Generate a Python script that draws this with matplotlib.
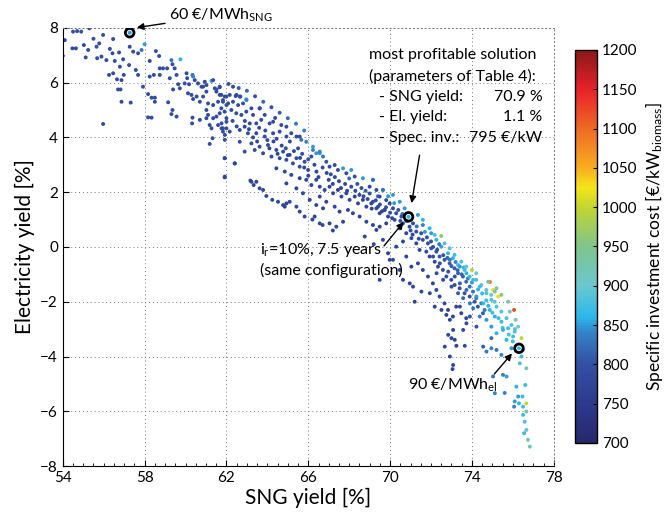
import matplotlib
matplotlib.use("Agg")
import matplotlib.pyplot as plt
from matplotlib.colors import LinearSegmentedColormap
from matplotlib.ticker import MultipleLocator

plt.rcParams['font.family'] = ['Lato', 'DejaVu Sans']
plt.rcParams['mathtext.default'] = 'regular'

# upper left part of the cloud (SNG yield 54-58.5 %)
x_a = [54.1, 54.0, 54.5, 54.7, 54.9, 55.3, 55.5, 55.97, 56.46, 54.47,
       54.64, 55.03, 55.12, 55.24, 55.65, 55.68, 55.78, 55.89, 56.13, 56.3,
       56.43, 56.54, 56.75, 56.95, 56.79, 56.26, 56.46, 56.65, 56.87, 56.7,
       56.82, 56.87, 57.32, 55.97, 57.27, 57.44, 57.68, 57.85, 58.0, 57.24,
       57.57, 57.68, 56.98, 57.92, 58.17, 58.34, 58.5, 58.5, 58.17, 58.34]
y_a = [7.55, 6.98, 7.86, 7.88, 7.86, 7.98, 7.6, 7.74, 7.59, 7.25,
       7.25, 7.37, 6.92, 7.19, 7.31, 6.89, 7.43, 6.95, 6.82, 7.23,
       7.07, 6.79, 7.1, 6.85, 6.58, 6.28, 6.34, 6.12, 6.09, 5.75,
       5.75, 5.3, 5.27, 4.49, 7.31, 7.13, 7.07, 7.19, 7.4, 6.64,
       6.46, 6.28, 6.28, 5.85, 5.58, 5.45, 5.45, 5.3, 4.73, 4.72]
c_a = [790, 790, 800, 790, 800, 790, 790, 800, 790, 790,
       790, 790, 790, 790, 800, 790, 790, 790, 790, 790,
       790, 790, 790, 790, 790, 790, 790, 790, 790, 790,
       790, 790, 790, 790, 790, 790, 800, 830, 850, 790,
       790, 790, 790, 790, 790, 790, 790, 790, 790, 790]

# 58-62 %
x_b = [58.25, 58.55, 58.71, 58.74, 58.45, 58.25, 58.74, 59.1, 58.9, 59.36,
       59.31, 59.75, 59.47, 59.56, 59.23, 59.64, 59.72, 59.39, 59.15, 59.36,
       59.56, 59.31, 60.05, 60.08, 59.96, 60.17, 60.34, 60.45, 60.61, 60.12,
       60.29, 60.37, 60.54, 60.78, 60.94, 61.02, 61.27, 61.43, 61.51, 61.67,
       61.67, 61.83, 60.34, 60.32, 60.7, 61.02, 61.1, 61.18, 61.27, 61.51,
       61.59, 61.76, 61.83, 61.92, 61.32, 61.18, 61.92, 60.7, 60.86, 61.1,
       61.35, 61.59, 61.92, 62.0, 61.02, 61.35, 61.67, 62.0, 61.76, 62.0,
       61.92, 60.37, 61.35, 60.86, 61.51, 61.92, 62.41]
y_b = [6.79, 7.15, 6.97, 6.52, 6.28, 6.22, 6.28, 6.52, 6.52, 6.67,
       6.82, 6.85, 6.52, 6.28, 6.16, 5.94, 5.79, 5.75, 5.28, 5.0,
       4.76, 4.85, 6.34, 6.16, 5.97, 5.94, 6.28, 6.09, 5.97, 5.61,
       5.55, 5.4, 5.49, 5.85, 6.03, 5.67, 6.06, 5.79, 5.67, 5.85,
       5.55, 5.36, 4.72, 4.51, 4.64, 5.0, 4.82, 4.45, 4.33, 4.76,
       4.45, 4.33, 4.21, 4.09, 3.97, 3.76, 3.24, 5.3, 5.49, 5.24,
       5.18, 5.3, 5.49, 5.18, 4.7, 4.7, 4.88, 4.7, 4.51, 4.33,
       3.91, 6.22, 6.09, 5.85, 5.75, 2.57, 3.05]
c_b = [790, 800, 790, 790, 790, 790, 790, 790, 790, 790,
       830, 860, 790, 790, 790, 790, 790, 790, 790, 790,
       790, 790, 790, 790, 790, 790, 830, 790, 790, 790,
       790, 790, 790, 790, 790, 790, 850, 790, 790, 790,
       790, 790, 790, 790, 790, 790, 790, 790, 790, 790,
       790, 790, 790, 790, 790, 790, 790, 790, 790, 790,
       790, 790, 790, 790, 790, 790, 790, 790, 790, 790,
       790, 840, 790, 790, 790, 790, 790]

# 62-66 %, upper side of the band
x_c = [61.75, 62.0, 62.16, 62.45, 62.68, 62.97, 61.83, 62.08, 62.32, 62.57,
       62.81, 63.22, 61.75, 61.91, 62.24, 62.48, 62.73, 62.97, 63.3, 63.62,
       63.87, 63.7, 64.11, 64.28, 64.68, 63.46, 63.14, 62.0, 61.83, 62.16,
       62.65, 63.05, 63.46, 63.87, 64.28, 64.6, 64.93, 65.17, 65.42, 65.66,
       65.9, 62.32, 62.65, 62.98, 63.63, 64.38, 64.93, 65.58, 66.23, 66.56,
       62.49, 61.67, 61.02, 62.1, 62.6, 63.0, 63.4, 63.8, 64.2, 64.6,
       65.0, 65.4, 65.8]
y_c = [5.55, 5.49, 5.55, 5.51, 5.49, 5.39, 5.3, 5.24, 5.3, 5.18,
       5.24, 5.06, 5.06, 4.94, 5.0, 4.88, 4.82, 4.94, 4.82, 5.06,
       4.82, 4.64, 4.51, 4.57, 4.45, 4.51, 4.51, 4.57, 4.33, 4.21,
       4.27, 4.15, 4.15, 4.03, 4.15, 4.21, 4.03, 4.15, 4.03, 3.91,
       3.84, 5.85, 5.49, 5.36, 5.06, 4.71, 4.39, 4.03, 3.66, 3.42,
       5.55, 5.83, 5.91, 5.95, 5.8, 5.7, 5.5, 5.3, 5.1, 4.9,
       4.7, 4.5, 4.25]
c_c = [790, 790, 790, 790, 790, 850, 790, 790, 790, 790,
       790, 790, 790, 790, 790, 790, 790, 790, 790, 790,
       790, 790, 790, 790, 790, 790, 790, 790, 790, 790,
       790, 790, 790, 790, 790, 790, 790, 790, 790, 830,
       840, 790, 790, 840, 790, 790, 790, 790, 850, 850,
       790, 790, 790, 800, 810, 820, 800, 820, 800, 810,
       820, 830, 840]

# 62-70 %, middle of the band
x_d = [62.65, 62.89, 63.22, 63.38, 63.62, 63.79, 64.03, 64.2, 64.44, 64.6,
       64.77, 64.93, 65.09, 65.25, 65.42, 65.58, 65.82, 65.99, 66.15, 66.23,
       66.39, 66.56, 66.72, 66.88, 67.04, 67.29, 67.45, 67.7, 67.86, 68.1,
       68.27, 68.67, 69.16, 69.65]
y_d = [3.84, 3.48, 3.78, 3.54, 3.66, 3.42, 3.72, 3.3, 3.54, 3.24,
       3.48, 3.18, 3.36, 3.05, 3.24, 2.93, 3.11, 2.81, 3.3, 3.54,
       3.42, 3.48, 3.3, 3.11, 2.93, 2.99, 2.81, 2.87, 2.69, 2.81,
       2.57, 2.51, 2.45, 2.08]
c_d = [790, 790, 790, 790, 790, 790, 790, 790, 790, 790,
       790, 790, 790, 790, 790, 790, 790, 790, 790, 840,
       850, 840, 830, 800, 790, 790, 790, 850, 790, 850,
       800, 850, 850, 850]

# 64-70 %, lower side of the band
x_e = [64.44, 64.85, 65.17, 65.58, 65.9, 66.15, 66.39, 66.56, 66.8, 67.04,
       67.21, 67.45, 67.62, 67.86, 68.02, 68.27, 68.43, 68.67, 68.84, 69.08,
       69.33, 69.49, 69.73, 69.9, 68.51, 68.84, 69.16, 69.49, 69.81, 66.31,
       66.56, 67.04, 67.37, 67.7, 64.93, 65.42, 65.74, 66.07, 66.39, 66.72,
       66.56, 66.88, 67.29, 67.53, 67.94, 68.18]
y_e = [2.87, 2.75, 2.63, 2.51, 2.45, 2.26, 2.45, 2.2, 2.08, 2.2,
       1.96, 2.08, 1.84, 1.96, 1.72, 1.84, 1.59, 1.72, 1.47, 1.59,
       1.41, 1.23, 1.35, 1.11, 1.11, 0.92, 0.8, 0.74, 0.86, 1.11,
       0.86, 0.86, 0.74, 0.92, 2.32, 2.14, 1.96, 1.72, 1.53, 1.41,
       1.84, 1.65, 1.47, 1.29, 1.35, 1.23]
c_e = [780, 775, 780, 770, 780, 775, 780, 770, 780, 775,
       780, 770, 780, 775, 780, 770, 780, 775, 780, 770,
       780, 775, 780, 770, 780, 775, 780, 770, 780, 775,
       780, 770, 780, 775, 780, 770, 780, 775, 780, 770,
       780, 775, 780, 770, 780, 775]

x_n = [62.3, 62.5, 62.9, 63.1, 63.3, 63.5, 63.6, 63.9, 64.0, 64.1,
       64.3, 64.45, 64.5, 64.7, 64.9, 65.0, 65.1, 65.3, 65.5, 65.6,
       65.7, 65.8, 66.0, 66.0, 66.3, 66.4, 66.5, 66.7, 66.9, 67.0,
       67.1, 67.2, 67.3, 67.5, 67.6, 67.8, 67.9, 68.0, 68.1, 68.3,
       68.4, 68.5, 68.6, 68.7, 68.8, 68.9, 69.0, 69.1, 69.3, 69.4,
       69.5, 69.6, 69.8, 69.9, 70.0, 70.1, 70.2, 70.4, 70.5, 70.6,
       70.8, 71.0, 71.1, 71.3, 71.4, 71.7, 71.8, 72.0, 72.1, 72.3,
       72.4, 72.6, 72.8, 73.0, 73.2, 73.3, 73.5, 73.6, 73.8, 74.0,
       74.3, 74.5, 74.7, 74.8, 75.0, 75.3, 75.5, 75.8, 76.0, 76.1]
y_n = [4.6, 4.4, 4.6, 4.3, 4.0, 3.85, 4.35, 4.25, 3.9, 3.6,
       3.85, 3.95, 3.4, 3.7, 3.6, 3.35, 3.85, 3.5, 3.6, 3.25,
       3.4, 2.9, 3.2, 2.6, 3.0, 2.75, 2.55, 2.9, 2.7, 2.45,
       2.65, 2.3, 2.55, 2.4, 2.15, 2.3, 2.05, 2.5, 2.2, 2.05,
       2.3, 1.9, 2.15, 1.85, 2.05, 1.75, 1.95, 1.4, 1.7, 1.85,
       1.55, 1.3, 1.45, 1.85, 1.25, 1.05, 1.6, 1.35, 0.95, 1.2,
       0.95, 0.6, 0.45, 0.75, 0.3, 0.55, 0.35, 0.2, 0.0, -0.1,
       0.1, -0.3, -0.4, -0.7, -0.55, -0.85, -1.0, -0.75, -1.15, -1.3,
       -1.55, -1.7, -1.95, -2.15, -2.4, -2.6, -2.95, -3.2, -3.45, -3.0]
c_n = [790, 785, 790, 785, 780, 785, 790, 790, 785, 780,
       785, 790, 780, 785, 790, 780, 790, 785, 790, 780,
       790, 780, 790, 775, 785, 780, 775, 790, 785, 780,
       790, 775, 790, 785, 775, 790, 780, 820, 790, 785,
       800, 780, 800, 785, 810, 785, 800, 780, 800, 830,
       790, 780, 800, 850, 790, 785, 850, 800, 790, 820,
       800, 790, 785, 830, 790, 850, 800, 800, 790, 800,
       830, 800, 820, 810, 840, 815, 820, 860, 840, 850,
       860, 860, 870, 860, 870, 870, 880, 880, 870, 890]

# lower side branch and scattered points (62-67 %)
x_f = [63.17, 63.33, 63.46, 63.62, 63.79, 63.95, 64.24, 64.52, 64.77, 64.93,
       65.09, 64.85, 65.42, 65.58, 65.82, 61.91, 62.4, 61.91, 62.89, 63.22,
       66.2, 66.7, 67.2]
y_f = [2.42, 2.26, 2.38, 2.14, 2.08, 1.86, 1.72, 1.65, 1.53, 1.59,
       1.65, 1.47, 1.47, 1.29, 1.11, 3.24, 3.05, 2.54, 4.39, 2.38,
       1.0, 0.8, 0.6]
c_f = [780] * 23

# 69-75 %: upper edge (lighter colours)
x_g = [69.16, 69.65, 70.14, 70.47, 70.71, 71.36, 71.6, 71.93, 72.18, 72.5,
       72.66, 72.91, 73.15, 73.48, 73.72, 74.0, 74.21, 74.88, 75.03, 75.28]
y_g = [2.45, 2.08, 1.9, 1.65, 1.41, 1.17, 0.99, 0.68, 0.44, 0.4,
       0.13, -0.05, -0.29, -0.54, -0.72, -0.84, -0.96, -1.28, -1.57, -1.81]
c_g = [820, 830, 850, 850, 850, 850, 860, 860, 880, 960,
       880, 880, 870, 880, 890, 990, 900, 1090, 1020, 1030]

# 69-75 %: dense interior
x_h = [69.0, 69.33, 69.49, 69.81, 69.98, 69.16, 69.41, 69.73, 70.14, 70.3,
       70.55, 70.22, 70.63, 70.95, 71.12, 71.28, 71.52, 71.6, 71.85, 72.01,
       72.26, 72.42, 72.66, 72.91, 73.15, 73.32, 73.56, 73.72, 73.89, 74.05,
       74.21, 74.46, 74.62, 70.47,
       70.79, 71.04, 71.28, 71.44, 71.77, 71.93, 72.18, 72.34, 72.58, 72.75,
       72.99, 73.15, 73.4, 73.64, 73.89, 74.13, 74.29, 74.54, 70.63]
y_h = [2.2, 2.08, 1.84, 1.71, 1.59, 1.65, 1.47, 1.35, 1.41, 1.23,
       1.11, 0.99, 0.86, 0.74, 0.86, 0.56, 0.5, 0.26, 0.13, -0.05,
       -0.17, -0.35, -0.47, -0.6, -0.78, -0.96, -1.08, -1.27, -1.45, -1.63,
       -1.87, -2.06, -2.3, 0.68,
       0.5, 0.32, 0.13, -0.11, -0.17, -0.35, -0.54, -0.72, -0.84, -1.08,
       -1.2, -1.39, -1.51, -1.69, -1.81, -2.0, -2.18, -2.42, 0.2]
c_h = [785, 785, 785, 785, 785, 785, 785, 785, 790, 790,
       790, 790, 790, 790, 790, 790, 795, 795, 795, 800,
       800, 805, 805, 810, 810, 815, 815, 820, 820, 825,
       825, 830, 830, 790,
       780, 780, 780, 780, 785, 785, 785, 785, 790, 790,
       790, 795, 795, 800, 800, 805, 805, 810, 780]

# 71-75 %: cyan stripe
x_i = [71.6, 72.01, 72.26, 72.5, 72.83, 73.07, 73.32, 73.64, 73.89, 74.21,
       74.46, 74.7, 74.94, 75.11]
y_i = [0.8, 0.5, 0.26, 0.01, -0.23, -0.41, -0.66, -0.84, -1.08, -1.2,
       -1.39, -1.57, -1.75, -2.0]
c_i = [840, 850, 860, 850, 860, 860, 870, 870, 870, 880,
       890, 890, 900, 890]

# 68-74 %: sparse points below the band
x_j = [69.33, 69.65, 69.9, 70.14, 70.47, 70.63, 71.12, 70.3, 70.79, 71.04,
       71.36, 71.6, 71.85, 72.09, 72.26, 72.42, 72.66, 72.83, 73.07, 73.23,
       73.48, 73.72, 68.76, 69.2, 69.49, 69.98, 70.96, 71.53, 71.2]
y_j = [0.62, 0.26, -0.23, -0.47, -0.84, -1.2, -1.45, 0.01, -0.35, -0.72,
       -0.6, -0.84, -1.08, -1.33, -1.57, -1.81, -2.06, -2.3, -2.54, -2.18,
       -2.42, -2.6, 0.38, 0.1, -1.2, -0.47, -1.33, -1.63, -2.0]
c_j = [780, 780, 770, 780, 780, 770, 780, 780, 780, 770,
       780, 780, 780, 770, 780, 780, 780, 770, 780, 780,
       780, 780, 780, 780, 770, 780, 780, 780, 770]

# 74.5-77 %: coloured outer edge and the tail
x_k = [74.79, 75.2, 75.12, 75.44, 75.77, 76.06, 75.85, 76.14, 76.26, 76.42,
       76.5, 76.42, 76.34, 76.66, 76.61, 76.17, 76.26, 76.47, 76.66, 76.3,
       76.5, 76.66, 76.5, 76.58, 76.66, 76.74, 76.83, 76.55]
y_k = [-1.27, -1.51, -1.63, -1.75, -2.0, -2.3, -2.36, -2.66, -2.91, -3.33,
       -3.76, -4.0, -4.25, -4.43, -5.04, -5.1, -5.46, -5.46, -5.71, -5.71,
       -5.83, -6.01, -6.13, -6.38, -6.68, -7.04, -7.29, -6.8]
c_k = [930, 940, 950, 960, 930, 1120, 920, 930, 900, 1000,
       880, 870, 880, 920, 870, 860, 850, 870, 1000, 860,
       870, 920, 870, 880, 890, 910, 920, 870]

# 72-76 %: lower scattered points
x_l = [71.94, 72.18, 72.51, 72.75, 72.92, 73.08, 72.84, 73.0, 73.16, 72.67,
       73.24, 73.65, 72.92, 73.08, 73.05, 73.57, 73.73, 73.9, 74.22, 74.55,
       74.95, 75.2, 75.44, 75.93, 73.41, 75.69, 75.03, 75.52, 75.6, 76.09,
       75.12, 76.06]
y_l = [-1.69, -2.18, -2.3, -2.48, -2.66, -3.03, -3.21, -3.33, -3.39, -3.64,
       -3.61, -3.61, -4.0, -4.31, -4.46, -3.03, -2.79, -2.54, -2.91, -3.64,
       -3.33, -3.76, -3.94, -3.7, -2.18, -4.73, -4.73, -4.67, -5.33, -5.64,
       -5.34, -5.83]
c_l = [780, 780, 780, 780, 780, 780, 780, 780, 780, 780,
       780, 790, 780, 780, 780, 790, 790, 800, 800, 810,
       820, 830, 840, 850, 790, 850, 830, 840, 840, 850,
       840, 840]

# 72-76 %: dense upper region
x_m = [72.1, 72.43, 72.84, 73.16, 73.41, 73.73, 72.27, 72.59, 73.0, 73.32,
       73.57, 73.9, 72.92, 73.41, 73.73, 74.06, 74.38, 74.71, 74.95, 75.2,
       75.44, 75.69, 75.93, 76.09, 74.22, 74.55, 74.87, 75.12, 75.44, 75.77,
       74.06, 74.38, 74.71, 74.95, 75.2, 75.52, 75.69, 76.01, 74.95, 74.71]
y_m = [-0.35, -0.6, -0.9, -1.08, -1.33, -1.57, -0.96, -1.2, -1.45, -1.69,
       -1.87, -2.06, -0.47, -0.72, -0.96, -1.2, -1.45, -1.69, -1.93, -2.18,
       -2.36, -2.6, -2.85, -3.09, -1.81, -2.06, -2.3, -2.54, -2.73, -2.97,
       -2.24, -2.54, -2.66, -2.91, -3.15, -3.03, -3.39, -3.27, -3.7, -3.82]
c_m = [790, 790, 800, 800, 810, 820, 790, 790, 800, 810,
       820, 830, 830, 850, 860, 870, 870, 880, 880, 880,
       880, 880, 880, 880, 850, 860, 860, 860, 870, 870,
       830, 840, 850, 850, 860, 860, 860, 870, 840, 830]

# highlighted solutions
x_mark = [57.27, 70.9, 76.3]
y_mark = [7.82, 1.1, -3.7]
c_mark = [850, 860, 870]

xs = x_a + x_b + x_c + x_d + x_e + x_n + x_f + x_g + x_h + x_i + x_j + x_k + x_l + x_m + x_mark
ys = y_a + y_b + y_c + y_d + y_e + y_n + y_f + y_g + y_h + y_i + y_j + y_k + y_l + y_m + y_mark
cs = c_a + c_b + c_c + c_d + c_e + c_n + c_f + c_g + c_h + c_i + c_j + c_k + c_l + c_m + c_mark

cmap = LinearSegmentedColormap.from_list('invest', [
    (0.00, '#26286a'), (0.10, '#2d3a8e'), (0.20, '#3350a2'), (0.28, '#3682c6'),
    (0.32, '#2cb8ea'), (0.40, '#6cc7cf'), (0.50, '#7fc58d'), (0.60, '#c3d52f'),
    (0.65, '#f4e51a'), (0.70, '#f8ae1f'), (0.80, '#ef6a25'), (0.90, '#e8222a'),
    (1.00, '#8a1818')])

fig = plt.figure(figsize=(6.68, 5.15), dpi=100)
ax = fig.add_axes([0.094, 0.095, 0.735, 0.851])
cax = fig.add_axes([0.861, 0.140, 0.033, 0.763])

sc = ax.scatter(xs, ys, c=cs, cmap=cmap, vmin=700, vmax=1200, s=8, linewidths=0)
ax.scatter(x_mark, y_mark, s=38, facecolors='none', edgecolors='k', linewidths=2, zorder=5)

ax.set_xlim(54, 78)
ax.set_ylim(-8, 8)
ax.set_xticks(range(54, 79, 4))
ax.set_yticks(range(-8, 9, 2))
ax.xaxis.set_minor_locator(MultipleLocator(0.5))
ax.tick_params(direction='in', length=4, labelsize=11, top=False, right=False)
ax.tick_params(which='minor', direction='in', length=2, width=0.6)
ax.grid(True, linestyle=(0, (1, 3)), color='#777777', linewidth=0.7)
for side in ['top', 'right']:
    ax.spines[side].set_linestyle((0, (1, 3)))
    ax.spines[side].set_color('#777777')
    ax.spines[side].set_linewidth(0.7)
ax.set_axisbelow(True)

ax.set_xlabel('SNG yield [%]', fontsize=15, labelpad=2)
ax.set_ylabel('Electricity yield [%]', fontsize=15, labelpad=4)

akw = dict(arrowstyle='-|>', color='k', lw=1, shrinkA=1, shrinkB=1, mutation_scale=10)
ax.annotate('60 €/MWh$_{SNG}$', xy=(57.55, 8.0), xytext=(59.2, 8.47),
            fontsize=11.5, va='center', ha='left', arrowprops=akw, annotation_clip=False)

ax.text(68.96, 7.01, 'most profitable solution', fontsize=11.5, va='center')
ax.text(68.96, 6.22, '(parameters of Table 4):', fontsize=11.5, va='center')
ax.text(69.46, 5.49, '- SNG yield:', fontsize=11.5, va='center')
ax.text(69.46, 4.73, '- El. yield:', fontsize=11.5, va='center')
ax.text(69.46, 3.97, '- Spec. inv.:', fontsize=11.5, va='center')
ax.text(77.45, 5.49, '70.9 %', fontsize=11.5, va='center', ha='right')
ax.text(77.45, 4.73, '1.1 %', fontsize=11.5, va='center', ha='right')
ax.text(77.45, 3.97, '795 €/kW', fontsize=11.5, va='center', ha='right')
ax.annotate('', xy=(71.04, 1.55), xytext=(71.45, 3.4), arrowprops=akw)

ax.text(63.66, -0.11, 'i$_r$=10%, 7.5 years', fontsize=11.5, va='center')
ax.text(63.66, -0.86, '(same configuration)', fontsize=11.5, va='center')
ax.annotate('', xy=(70.7, 0.95), xytext=(69.66, 0.0), arrowprops=akw)

ax.text(70.88, -5.04, '90 €/MWh$_{el}$', fontsize=11.5, va='center')
ax.annotate('', xy=(76.0, -3.85), xytext=(75.05, -4.68), arrowprops=akw)

cbar = fig.colorbar(sc, cax=cax, ticks=range(700, 1201, 50))
cax.tick_params(direction='in', length=3, labelsize=11)
cbar.outline.set_linewidth(1)
cbar.set_label('Specific investment cost [€/kW$_{biomass}$]', fontsize=12.5, labelpad=4)

fig.savefig('out.png', dpi=100)
